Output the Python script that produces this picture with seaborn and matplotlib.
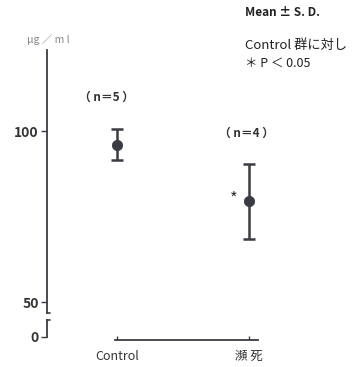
import matplotlib
matplotlib.use('Agg')
import matplotlib.pyplot as plt
import seaborn as sns
import pandas as pd

sns.set_style('white')
plt.rcParams['font.family'] = ['Noto Sans CJK JP', 'DejaVu Sans']

# データ (Mean ± S.D.)
groups = ['Control', '瀕 死']
means = [96.0, 79.5]
sds = [4.5, 11.0]
n_labels = ['（ n＝5 ）', '（ n＝4 ）']

df = pd.DataFrame({'group': groups, 'mean': means, 'sd': sds})
col = '#3a3c44'

fig = plt.figure(figsize=(3.56, 3.67), dpi=100)
ax = fig.add_axes([0.132, 0.147, 0.80, 0.717])
ax2 = fig.add_axes([0.132, 0.0736, 0.80, 0.06], sharex=ax)

# 上側 (50 - 120)
sns.scatterplot(data=df, x='group', y='mean', ax=ax, color=col, s=55,
                edgecolor=col, zorder=3)
ax.errorbar(df['group'], df['mean'], yerr=df['sd'], fmt='none', ecolor=col,
            elinewidth=1.8, capsize=4, capthick=1.8, zorder=2)
ax.set_ylim(46.8, 123.7)
ax.set_xlim(-0.53, 1.63)
ax.set_yticks([50, 100])
ax.set_yticklabels(['50', '100'], fontsize=10, fontweight='bold', color='#333333')
ax.tick_params(axis='y', left=True, length=4, width=1, color=col, pad=2)
ax.tick_params(axis='x', bottom=False, labelbottom=False)
ax.set_xlabel('')
ax.set_ylabel('')
for s in ['top', 'right', 'bottom']:
    ax.spines[s].set_visible(False)
ax.spines['left'].set_color(col)
ax.spines['left'].set_linewidth(1.3)
ax.plot([0, 0.012], [0, 0], transform=ax.transAxes, color=col, lw=1.2, clip_on=False)

# n 数とアスタリスク
ax.text(-0.08, 109.9, n_labels[0], ha='center', va='center', fontsize=8.5,
        fontweight='bold', color='#333333')
ax.text(0.98, 99.4, n_labels[1], ha='center', va='center', fontsize=8.5,
        fontweight='bold', color='#333333')
ax.text(0.89, 80.0, '*', ha='center', va='center', fontsize=12, color='#333333')

# 下側 (0 付近)
ax2.set_ylim(-0.9, 5.5)
ax2.set_yticks([0])
ax2.set_yticklabels(['0'], fontsize=10, fontweight='bold', color='#333333')
ax2.tick_params(axis='y', left=True, length=4, width=1, color=col, pad=2)
ax2.spines['left'].set_bounds(0, 5)
ax2.spines['left'].set_color(col)
ax2.spines['left'].set_linewidth(1.3)
ax2.plot([0, 0.012], [5, 5], transform=ax2.get_yaxis_transform(), color=col, lw=1.2, clip_on=False)
for s in ['top', 'right']:
    ax2.spines[s].set_visible(False)
ax2.spines['bottom'].set_bounds(-0.015, 1.07)
ax2.spines['bottom'].set_color(col)
ax2.spines['bottom'].set_linewidth(1.3)
ax2.set_xticks([0, 1])
ax2.set_xticklabels(groups, fontsize=9, color='#333333')
ax2.tick_params(axis='x', bottom=True, direction='in', length=3, width=1, color=col, pad=7)

# 単位と注記
fig.text(0.135, 0.891, 'μg ／ m l', ha='center', va='center', fontsize=7.5, color='#888888')
fig.text(0.688, 0.965, 'Mean ± S. D.', ha='left', va='center', fontsize=8.5, fontweight='bold', color='#222222')
fig.text(0.688, 0.875, 'Control 群に対し', ha='left', va='center', fontsize=9.5, color='#222222')
fig.text(0.688, 0.828, '＊ P ＜ 0.05', ha='left', va='center', fontsize=9, color='#222222')

fig.savefig('out.png', dpi=100)
